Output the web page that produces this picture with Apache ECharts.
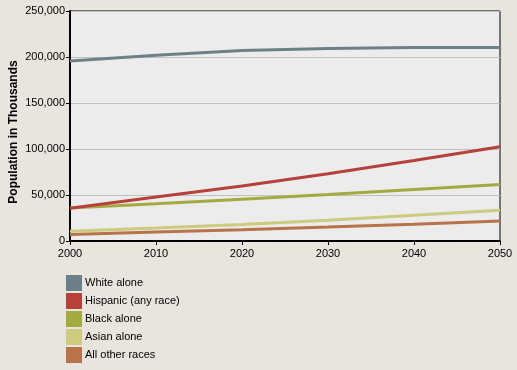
<!DOCTYPE html>
<html><head><meta charset="utf-8">
<script src="https://cdn.jsdelivr.net/npm/echarts@6/dist/echarts.min.js"></script>
<style>html,body{margin:0;padding:0;background:#e8e4de;}#c{width:517px;height:370px;}</style>
</head><body><div id="c"></div>
<script>
const years = [2000, 2010, 2020, 2030, 2040, 2050];
const seriesNames = ["White alone", "Hispanic (any race)", "Black alone", "Asian alone", "All other races"];
const whiteAlone = [195729, 201956, 207145, 209176, 210331, 210283];
const hispanic = [35622, 47756, 59756, 73055, 87585, 102560];
const blackAlone = [35818, 40454, 45365, 50442, 55876, 61361];
const asianAlone = [10684, 14241, 17988, 22580, 27992, 33430];
const allOther = [7075, 9766, 12343, 15140, 18252, 21788];
const colors = ["#6e8087", "#b6403a", "#a3aa3f", "#cccb7e", "#b8734a"];
const values = [whiteAlone, hispanic, blackAlone, asianAlone, allOther];

const font = "'Liberation Sans', Arial, sans-serif";
const chart = echarts.init(document.getElementById('c'));
chart.setOption({
  backgroundColor: '#e8e4de',
  animation: false,
  textStyle: {fontFamily: font},
  grid: {left: 70, right: 17, top: 11, bottom: 129, outerBoundsMode: 'none', containLabel: false,
         show: true, backgroundColor: '#ececec', borderColor: '#000', borderWidth: 1},
  legend: {
    orient: 'vertical', left: 66, top: 275, height: 95, padding: 0, itemWidth: 16, itemHeight: 16, itemGap: 2,
    icon: 'rect', textStyle: {color: '#000', fontSize: 11, fontFamily: font, padding: [0,0,0,-2]},
    data: seriesNames.map((n, i) => ({name: n, itemStyle: {color: colors[i]}}))
  },
  xAxis: {
    type: 'value', min: 2000, max: 2050, interval: 10,
    axisLine: {show: true, onZero: false, lineStyle: {color: '#000', width: 2}},
    axisTick: {show: true, length: 4, lineStyle: {color: '#000'}},
    axisLabel: {color: '#000', fontSize: 11, fontFamily: font, margin: 7, formatter: v => String(v)},
    splitLine: {show: false}
  },
  yAxis: {
    type: 'value', min: 0, max: 250000, interval: 50000,
    name: 'Population in Thousands', nameLocation: 'middle', nameGap: 50, nameMoveOverlap: false,
    nameTextStyle: {color: '#000', fontSize: 12, fontWeight: 'bold', fontFamily: font, padding: [0, 12, 0, 0]},
    axisLine: {show: true, lineStyle: {color: '#000', width: 2}},
    axisTick: {show: true, length: 4, lineStyle: {color: '#000'}},
    axisLabel: {color: '#000', fontSize: 11, fontFamily: font, margin: 5, formatter: v => v.toLocaleString('en-US')},
    splitLine: {show: true, lineStyle: {color: '#c0c0c0', width: 1}}
  },
  series: seriesNames.map((n, i) => ({
    name: n, type: 'line', showSymbol: false, symbol: 'none', smooth: false,
    color: colors[i],
    lineStyle: {width: 3, color: colors[i]},
    data: years.map((y, j) => [y, values[i][j]]),
    z: 10 - i
  }))
});
</script></body></html>
